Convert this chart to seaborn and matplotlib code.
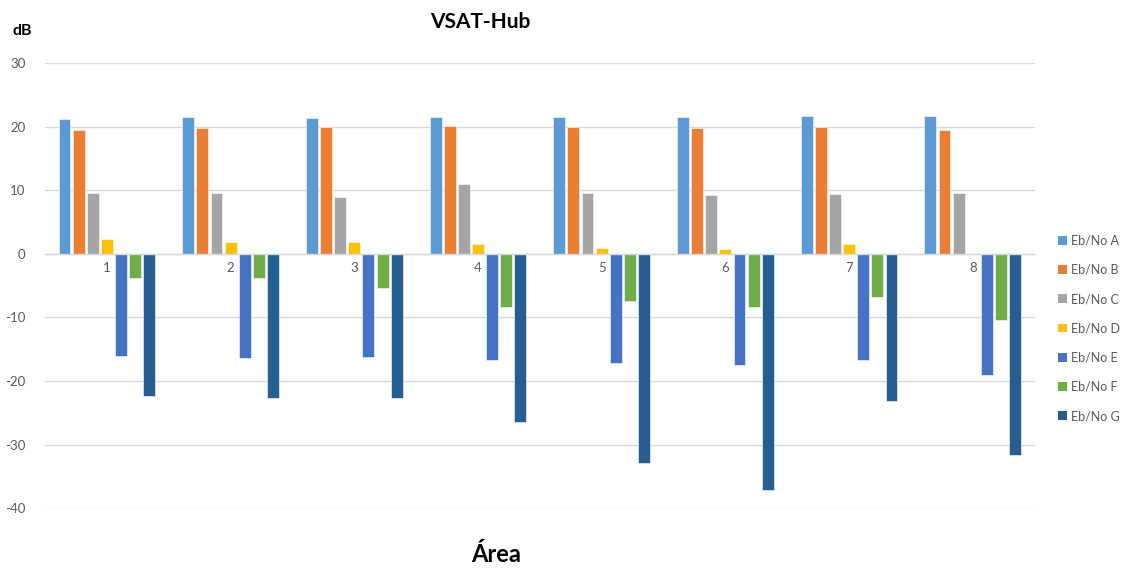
import numpy as np
import pandas as pd
import matplotlib
matplotlib.use("Agg")
import matplotlib.pyplot as plt
import seaborn as sns
from matplotlib.ticker import FixedLocator, MultipleLocator
from matplotlib.patches import Patch

areas = ["1", "2", "3", "4", "5", "6", "7", "8"]
series = ["Eb/No A", "Eb/No B", "Eb/No C", "Eb/No D", "Eb/No E", "Eb/No F", "Eb/No G"]
eb_a = [21.2, 21.5, 21.3, 21.5, 21.5, 21.5, 21.7, 21.7]
eb_b = [19.5, 19.75, 20.0, 20.1, 20.0, 19.75, 20.0, 19.5]
eb_c = [9.6, 9.6, 9.0, 11.0, 9.6, 9.2, 9.4, 9.6]
eb_d = [2.3, 1.9, 1.9, 1.5, 0.9, 0.7, 1.5, 0.0]
eb_e = [-16.1, -16.45, -16.3, -16.7, -17.1, -17.5, -16.7, -19.1]
eb_f = [-3.8, -3.8, -5.45, -8.4, -7.4, -8.4, -6.8, -10.4]
eb_g = [-22.4, -22.6, -22.6, -26.4, -32.9, -37.1, -23.2, -31.6]
colors = ["#5B9BD5", "#ED7D31", "#A5A5A5", "#FFC000", "#4472C4", "#70AD47", "#255E91"]

sns.set_theme(style="white")
plt.rcParams['font.family'] = ['Lato', 'DejaVu Sans']
plt.rcParams['axes.unicode_minus'] = False

values = [eb_a, eb_b, eb_c, eb_d, eb_e, eb_f, eb_g]
rows = []
for s, vals in zip(series, values):
    for a, v in zip(areas, vals):
        rows.append({"Área": a, "dB": v, "Serie": s})
df = pd.DataFrame(rows)

fig = plt.figure(figsize=(11.27, 5.69), dpi=100)
ax = fig.add_axes([0.040, 0.107, 0.878, 0.782])
sns.barplot(data=df, x="Área", y="dB", hue="Serie", order=areas, hue_order=series,
            palette=colors, width=0.8, gap=0.16, ax=ax, legend=False,
            saturation=1, errorbar=None, edgecolor="white", linewidth=0.4)

ax.set_ylim(-40, 30)
ax.set_xlim(-0.5, 7.5)
ax.yaxis.set_major_locator(MultipleLocator(10))
ax.grid(axis="y", color="#D9D9D9", linewidth=1.0)
ax.set_axisbelow(True)
for side in ["left", "right", "top"]:
    ax.spines[side].set_visible(False)
ax.spines["bottom"].set_position(("data", 0))
ax.spines["bottom"].set_color("#D9D9D9")
ax.spines["bottom"].set_linewidth(1.0)
ax.set_xlabel("")
ax.set_ylabel("")
ax.tick_params(axis="x", which="major", length=0, pad=6, labelsize=9.5, labelcolor="#595959")
ax.xaxis.set_minor_locator(FixedLocator(np.arange(-0.5, 8.0, 1.0)))
ax.tick_params(axis="x", which="minor", length=5, width=1.0, color="#D9D9D9", direction="out")
ax.tick_params(axis="y", length=0, pad=14, labelsize=9.5, labelcolor="#595959")

fig.text(0.426, 0.962, "VSAT-Hub", ha="center", va="center", fontsize=15, fontweight="bold", color="black")
fig.text(0.011, 0.945, "dB", ha="left", va="center", fontsize=11.5, fontweight="bold", color="black")
fig.text(0.44, 0.025, "Área", ha="center", va="center", fontsize=17, fontweight="bold", color="black")

handles = [Patch(facecolor=c, edgecolor="none") for c in colors]
fig.legend(handles, series, loc="center left", bbox_to_anchor=(0.939, 0.423), frameon=False,
           fontsize=9, labelcolor="#595959", handlelength=0.7, handleheight=0.7,
           handletextpad=0.35, labelspacing=1.38, borderaxespad=0, borderpad=0)

fig.savefig("out.png", dpi=100)
